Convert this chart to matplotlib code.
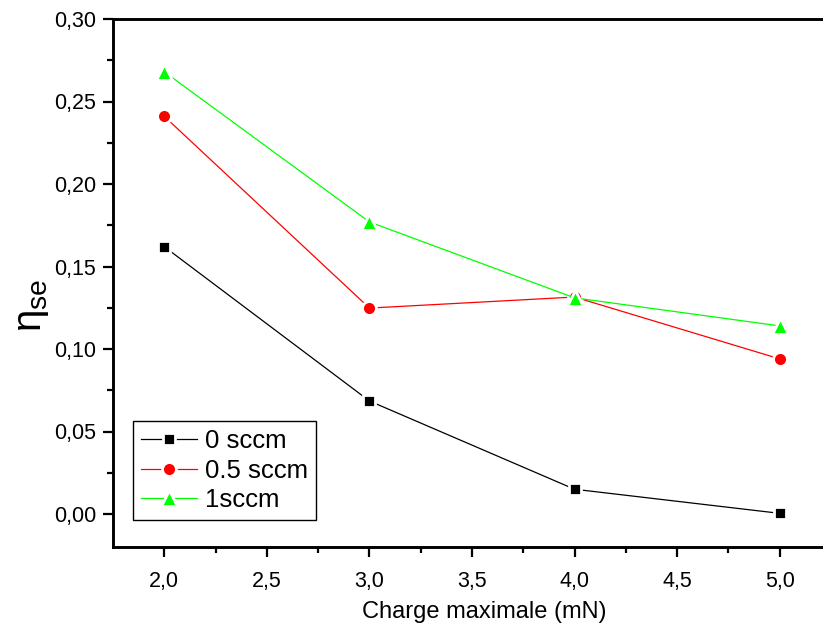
import matplotlib
matplotlib.use('Agg')
import matplotlib.pyplot as plt

plt.rcParams['font.family'] = ['Liberation Sans', 'DejaVu Sans']
plt.rcParams['mathtext.fontset'] = 'custom'
plt.rcParams['mathtext.rm'] = 'Liberation Sans'
plt.rcParams['mathtext.it'] = 'Liberation Sans'

charge = [2.0, 3.0, 4.0, 5.0]
eta_0 = [0.162, 0.0685, 0.015, 0.0004]
eta_05 = [0.241, 0.1248, 0.1315, 0.094]
eta_1 = [0.268, 0.177, 0.131, 0.114]
labels = ['0 sccm', '0.5 sccm', '1sccm']

W, H = 823, 631
fig = plt.figure(figsize=(W / 100, H / 100), dpi=100)
ax = fig.add_axes([113 / W, 84 / H, (831 - 113) / W, (547 - 19) / H])

series = [
    (eta_0, '#000000', 's', 9.2),
    (eta_05, '#ff0000', 'o', 10.0),
    (eta_1, '#00ff00', '^', 11.0),
]
for (vals, col, mk, ms), lab in zip(series, labels):
    ax.plot(charge, vals, color=col, lw=0.9, marker=mk, ms=ms,
            markerfacecolor=col, markeredgecolor='white', markeredgewidth=2,
            label=lab, clip_on=False)

ax.set_xlim(1.75, 5.25)
ax.set_ylim(-0.02, 0.30)
ax.set_xticks([2.0, 2.5, 3.0, 3.5, 4.0, 4.5, 5.0])
ax.set_xticks([2.25, 2.75, 3.25, 3.75, 4.25, 4.75], minor=True)
ax.set_yticks([0.0, 0.05, 0.10, 0.15, 0.20, 0.25, 0.30])
ax.set_yticks([0.025, 0.075, 0.125, 0.175, 0.225, 0.275], minor=True)
ax.set_xticklabels([f'{v:.1f}'.replace('.', ',') for v in ax.get_xticks()])
ax.set_yticklabels([f'{v:.2f}'.replace('.', ',') for v in ax.get_yticks()])

for s in ax.spines.values():
    s.set_linewidth(2.1)
ax.tick_params(which='major', direction='out', length=7, width=1.6, labelsize=15.5)
ax.tick_params(which='minor', direction='out', length=4, width=1.6)
ax.tick_params(axis='x', which='major', pad=10)
ax.tick_params(axis='y', which='major', pad=5)

ax.set_xlabel('Charge maximale (mN)', fontsize=17)
ax.xaxis.set_label_coords((484 - 113) / (831 - 113), -(612 - 547) / (547 - 19), transform=ax.transAxes)
ax.xaxis.label.set_va('center')
ax.set_ylabel(r'$\mathregular{η_{se}}$', fontsize=29)
ax.yaxis.set_label_coords(-(113 - 32) / (831 - 113), (547 - 305) / (547 - 19), transform=ax.transAxes)
ax.yaxis.label.set_va('center')

leg = ax.legend(loc='lower left', bbox_to_anchor=(133 / W, (H - 520) / H),
                bbox_transform=fig.transFigure, borderaxespad=0, fontsize=18.5,
                handlelength=2.2, handletextpad=0.3, labelspacing=0.22,
                borderpad=0.3, fancybox=False, framealpha=1, edgecolor='black')
leg.get_frame().set_linewidth(1.0)

fig.savefig('out.png', dpi=100)
